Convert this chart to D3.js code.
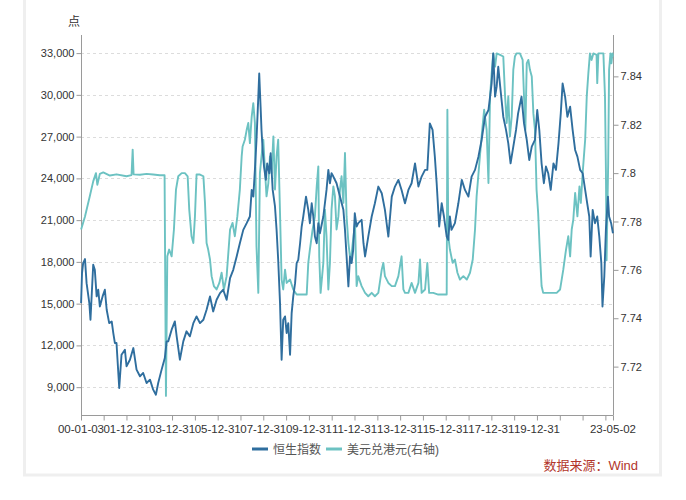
<!DOCTYPE html>
<html><head><meta charset="utf-8">
<script src="https://cdn.jsdelivr.net/npm/d3@7/dist/d3.min.js"></script>
<style>
html,body{margin:0;padding:0;background:#fff;}
svg{display:block;}
text{font-family:"Liberation Sans","Noto Sans CJK SC",sans-serif;}
</style></head>
<body>
<svg id="chart" width="686" height="500"></svg>
<script>
// ---- data (fractional year, value) ----
const hsiYears = [2000.01,2000.05,2000.10,2000.18,2000.25,2000.37,2000.42,2000.54,2000.61,2000.69,2000.76,2000.83,2000.95,
2001.05,2001.13,2001.24,2001.35,2001.42,2001.49,2001.56,2001.68,2001.78,2001.93,2002.00,2002.15,2002.30,2002.44,2002.59,2002.73,2002.88,
2003.03,2003.17,2003.29,2003.39,2003.54,2003.68,2003.76,2003.83,2003.98,2004.12,2004.20,2004.34,2004.49,2004.63,2004.78,2004.93,
2005.07,2005.22,2005.37,2005.51,2005.66,2005.80,2005.95,2006.10,2006.24,2006.39,2006.54,2006.68,2006.83,2006.97,
2007.12,2007.27,2007.41,2007.49,2007.56,2007.63,2007.70,2007.78,2007.82,2007.88,2007.92,2007.97,2008.03,2008.11,2008.17,2008.26,2008.32,2008.41,2008.51,2008.58,2008.65,2008.73,2008.80,2008.87,2008.95,
2009.02,2009.09,2009.17,2009.24,2009.31,2009.39,2009.46,2009.53,2009.61,2009.68,2009.75,2009.87,2009.97,
2010.04,2010.12,2010.19,2010.26,2010.34,2010.41,2010.48,2010.63,2010.77,2010.85,2010.92,2010.99,
2011.07,2011.21,2011.36,2011.51,2011.58,2011.73,2011.80,2011.87,2011.94,2012.01,2012.09,2012.16,2012.31,2012.39,2012.46,2012.60,2012.75,2012.89,
2013.04,2013.19,2013.33,2013.48,2013.63,2013.77,2013.92,2014.06,2014.21,2014.36,2014.50,2014.65,2014.80,2014.94,
2015.09,2015.19,2015.30,2015.42,2015.52,2015.60,2015.71,2015.82,2015.92,2016.04,2016.11,2016.18,2016.25,2016.40,2016.55,2016.70,2016.84,2016.99,
2017.13,2017.28,2017.43,2017.57,2017.72,2017.87,2018.01,2018.08,2018.16,2018.23,2018.30,2018.40,2018.52,2018.64,2018.74,2018.84,2018.96,
2019.08,2019.17,2019.32,2019.43,2019.55,2019.66,2019.77,2019.91,2020.01,2020.10,2020.20,2020.30,2020.39,2020.49,2020.60,2020.72,2020.83,2020.94,
2021.04,2021.12,2021.23,2021.33,2021.45,2021.56,2021.67,2021.77,2021.89,2022.00,2022.11,2022.20,2022.29,2022.35,2022.44,2022.54,2022.64,2022.73,2022.82,2022.87,2022.95,
2023.02,2023.11,2023.16,2023.25,2023.33];
const hsiValues = [15040,17190,17910,18200,16470,15040,13840,17790,17430,15520,16000,14800,15520,
16000,14560,13600,13720,12890,12170,12170,8940,11330,11690,10500,10970,11810,10260,9780,10020,9300,
9540,8820,8460,9300,10260,11090,12290,12290,13130,13720,12650,10970,12290,13010,12650,13600,
14080,13600,13840,14560,15520,14440,15280,15760,16000,15280,16830,17430,18390,19340,
20300,20780,21260,23170,22690,24610,26760,29870,31540,29150,27480,26040,24850,23890,25080,24370,25800,23170,21980,20300,18150,15040,10970,13840,14080,
12890,13600,11330,14320,15520,16470,17910,18150,19340,20540,21260,22690,21740,
20780,22210,21260,19820,19340,20780,20060,21260,23170,24610,23650,24370,
24130,23650,22690,21740,20300,16240,18390,17910,18870,21500,20540,20780,21020,19340,18390,19820,21260,22210,
23410,22930,21740,19820,22690,23410,23890,23170,22210,23170,23650,25080,23410,24130,
24610,24610,27950,27480,25560,23650,20540,22210,21260,19820,19580,21260,20300,20780,22210,23890,23170,22690,
24130,24610,25560,26760,28430,28910,30820,32980,29870,30590,32020,30350,28430,27480,26520,25080,26280,
27480,28670,29870,27950,26760,25320,26280,26760,28910,27480,25080,23650,24850,24370,23170,25080,24610,26520,
28670,30820,29870,28430,29150,27480,26040,25560,24610,24370,23170,22210,21260,18390,21740,20780,21260,19820,17910,14800,16950,
20300,22690,21260,20780,20060];

const hkdYears = [2000.01,2000.18,2000.39,2000.54,2000.66,2000.72,2000.83,2000.98,2001.27,2001.56,2002.00,2002.22,2002.27,2002.31,2002.59,2002.88,
2003.17,2003.46,2003.67,2003.73,2003.79,2003.87,2003.98,2004.08,2004.17,2004.27,2004.42,2004.56,2004.68,2004.75,2004.85,2004.93,
2005.00,2005.07,2005.22,2005.37,2005.44,2005.51,2005.58,2005.66,2005.73,2005.83,2005.95,2006.07,2006.17,2006.27,2006.39,2006.54,2006.65,2006.75,2006.86,2006.97,
2007.05,2007.09,2007.19,2007.27,2007.34,2007.41,2007.49,2007.56,2007.63,2007.70,2007.78,2007.85,2007.92,2008.00,2008.07,2008.14,2008.22,2008.29,2008.36,2008.44,2008.51,2008.58,2008.65,2008.73,2008.80,2008.87,2008.95,
2009.02,2009.17,2009.31,2009.46,2009.68,2009.90,2009.97,2010.04,2010.16,2010.26,2010.34,2010.41,2010.45,2010.51,2010.63,2010.70,2010.77,2010.85,2010.92,2010.99,
2011.07,2011.14,2011.21,2011.29,2011.36,2011.43,2011.51,2011.58,2011.65,2011.73,2011.83,2011.92,2012.02,2012.09,2012.16,2012.31,2012.46,2012.60,2012.75,2012.89,
2013.04,2013.19,2013.26,2013.33,2013.48,2013.63,2013.77,2013.92,2014.06,2014.14,2014.21,2014.36,2014.50,2014.65,2014.80,2014.87,2014.94,
2015.09,2015.19,2015.27,2015.45,2015.67,2015.89,2016.04,2016.07,2016.11,2016.18,2016.30,2016.40,2016.51,2016.62,2016.77,2016.92,
2017.06,2017.18,2017.28,2017.35,2017.47,2017.57,2017.68,2017.79,2017.87,2017.94,2018.01,2018.08,2018.16,2018.23,2018.38,2018.52,2018.60,2018.67,2018.74,2018.81,2018.89,2018.96,
2019.03,2019.10,2019.25,2019.37,2019.43,2019.49,2019.55,2019.62,2019.69,2019.77,2019.84,2019.91,2019.98,2020.05,2020.12,2020.20,2020.27,2020.42,2020.57,2020.72,2020.86,
2021.01,2021.08,2021.15,2021.27,2021.37,2021.45,2021.52,2021.59,2021.67,2021.77,2021.86,2021.92,2022.00,2022.11,2022.18,2022.25,2022.32,2022.39,2022.47,2022.61,2022.64,2022.69,2022.83,2022.91,2022.98,
2023.02,2023.05,2023.12,2023.16,2023.22,2023.26,2023.31,2023.33];
const hkdValues = [7.7767,7.7821,7.7904,7.7966,7.8000,7.7952,7.7997,7.8003,7.7990,7.7995,7.7987,7.7992,7.8097,7.7995,7.7993,7.7997,
7.7994,7.7991,7.7991,7.7079,7.7656,7.7684,7.7656,7.7767,7.7932,7.7987,7.8000,7.8000,7.7987,7.7849,7.7739,7.7711,
7.7821,7.7994,7.7994,7.7987,7.7877,7.7711,7.7684,7.7643,7.7574,7.7533,7.7519,7.7546,7.7588,7.7519,7.7574,7.7767,7.7794,7.7739,7.7821,7.7932,
7.8069,7.8110,7.8138,7.8179,7.8207,7.8124,7.8234,7.8289,7.8207,7.7698,7.7505,7.8000,7.8069,7.8138,7.8014,7.7904,7.7959,7.8069,7.8000,7.8152,7.7932,7.8069,7.8138,7.7835,7.7560,7.7519,7.7601,
7.7546,7.7560,7.7519,7.7498,7.7498,7.7498,7.7629,7.7684,7.7767,7.7821,7.7945,7.8028,7.7656,7.7505,7.7629,7.7849,7.7739,7.7519,7.7629,7.7849,
7.7945,7.7904,7.7767,7.7821,7.7932,7.7987,7.7877,7.8083,7.7821,7.7711,7.7629,7.7711,7.7794,7.7533,7.7574,7.7533,7.7505,7.7491,7.7505,7.7491,
7.7505,7.7601,7.7629,7.7574,7.7546,7.7533,7.7533,7.7574,7.7656,7.7519,7.7505,7.7505,7.7546,7.7505,7.7546,7.7643,7.7505,
7.7519,7.7629,7.7505,7.7505,7.7498,7.7498,7.7498,7.8262,7.7739,7.7684,7.7629,7.7643,7.7588,7.7560,7.7574,7.7560,
7.7588,7.7643,7.7767,7.7904,7.8042,7.8152,7.8262,7.8179,7.7959,7.8317,7.8413,7.8495,7.8440,7.8495,7.8489,7.8482,7.8317,7.8207,7.8317,7.8152,7.8234,7.8427,
7.8482,7.8495,7.8495,7.8468,7.8317,7.8179,7.8454,7.8468,7.8427,7.8399,7.8248,7.8179,7.7932,7.7835,7.7684,7.7533,7.7505,7.7505,7.7505,7.7505,7.7505,
7.7519,7.7560,7.7601,7.7684,7.7739,7.7656,7.7767,7.7808,7.7918,7.7821,7.7945,7.7877,7.8000,7.8138,7.8317,7.8413,7.8495,7.8468,7.8495,7.8489,7.8372,7.8495,7.8495,7.8495,7.8317,
7.8014,7.7640,7.8042,7.8427,7.8495,7.8454,7.8495,7.8482];

const leftTicks = [9000,12000,15000,18000,21000,24000,27000,30000,33000];
const rightTicks = [7.72,7.74,7.76,7.78,7.8,7.82,7.84];
const xLabelDates = ["2000-01-03","2001-12-31","2003-12-31","2005-12-31","2007-12-31","2009-12-31","2011-12-31","2013-12-31","2015-12-31","2017-12-31","2019-12-31","2023-05-02"];
const seriesNames = ["恒生指数","美元兑港元(右轴)"];
const yUnit = "点";
const sourceText = "数据来源：Wind";

// ---- helpers ----
function yearToDate(y){
  const yr = Math.floor(y), f = y - yr;
  const a = Date.UTC(yr,0,1), b = Date.UTC(yr+1,0,1);
  return new Date(a + f*(b-a));
}
const parse = d3.utcParse("%Y-%m-%d");
const fmt = d3.utcFormat("%y-%m-%d");

const svg = d3.select("#chart");
const L = 81, R = 613, T = 35, B = 415;
const startDate = parse("2000-01-03"), endDate = parse("2023-05-02");

const x = d3.scaleUtc().domain([startDate,endDate]).range([L,R]);
const yL = d3.scaleLinear().domain([7000,34300]).range([B,T]);
const yR = d3.scaleLinear().domain([7.70,7.8571]).range([B,T]);

// card border
svg.append("rect").attr("x",24.5).attr("y",-4).attr("width",636).attr("height",479)
  .attr("fill","none").attr("stroke","#efefef").attr("stroke-width",3);

const axisColor = "#9a9a9a", textColor = "#333";

// gridlines
svg.append("g").selectAll("line").data(leftTicks).join("line")
  .attr("x1",L).attr("x2",R).attr("y1",d=>Math.round(yL(d))+0.5).attr("y2",d=>Math.round(yL(d))+0.5)
  .attr("stroke","#dcdcdc").attr("stroke-dasharray","3,3").attr("stroke-width",1);

// left axis
const gL = svg.append("g").attr("transform",`translate(${L+0.5},0)`);
const leftMinor = d3.range(7000,34001,1000).filter(v=>leftTicks.indexOf(v)<0);
gL.call(d3.axisLeft(yL).tickValues(leftMinor).tickSize(4).tickFormat(""));
gL.call(d3.axisLeft(yL).tickValues(leftTicks).tickSize(5).tickPadding(2).tickFormat(d3.format(",")));
gL.selectAll(".domain").remove();
gL.append("line").attr("x1",0).attr("x2",0).attr("y1",T).attr("y2",B).attr("stroke",axisColor);
gL.selectAll(".tick line").attr("stroke",axisColor);
gL.selectAll(".tick text").attr("fill",textColor).style("font-size","11px").attr("font-family","Liberation Sans");

// right axis
const gR = svg.append("g").attr("transform",`translate(${R+0.5},0)`);
const rightMinor = d3.range(0,24).map(i=>7.70+i*0.02/3).filter(v=>v<=7.8571 && !rightTicks.some(t=>Math.abs(t-v)<1e-6));
gR.call(d3.axisRight(yR).tickValues(rightMinor).tickSize(4).tickFormat(""));
gR.call(d3.axisRight(yR).tickValues(rightTicks).tickSize(5).tickPadding(2).tickFormat(d=>String(+d.toFixed(2))));
gR.selectAll(".domain").remove();
gR.append("line").attr("x1",0).attr("x2",0).attr("y1",T).attr("y2",B).attr("stroke",axisColor);
gR.selectAll(".tick line").attr("stroke",axisColor);
gR.selectAll(".tick text").attr("fill",textColor).style("font-size","11px").attr("font-family","Liberation Sans");

// x axis
const gX = svg.append("g").attr("transform",`translate(0,${B+0.5})`);
const yearTicks = d3.range(2000,2023).map(yr=>new Date(Date.UTC(yr,11,31)));
gX.call(d3.axisBottom(x).tickValues(yearTicks.concat([endDate])).tickSize(5).tickFormat(""));
gX.selectAll(".domain").remove();
gX.append("line").attr("x1",L).attr("x2",R+0.5).attr("y1",0).attr("y2",0).attr("stroke",axisColor);
gX.append("line").attr("x1",L+0.5).attr("x2",L+0.5).attr("y1",0).attr("y2",5).attr("stroke",axisColor);
gX.selectAll(".tick line").attr("stroke",axisColor);
gX.selectAll("text.lbl").data(xLabelDates).join("text").attr("class","lbl")
  .attr("x",d=>x(parse(d))).attr("y",17).attr("text-anchor","middle")
  .attr("fill",textColor).style("font-size","11.5px").text(d=>fmt(parse(d)));

// unit
svg.append("text").attr("x",74).attr("y",26).attr("text-anchor","middle")
  .attr("fill",textColor).style("font-size","12px").attr("font-family","Noto Sans CJK SC").text(yUnit);

// series
const colors = ["#2f6e9e","#6cc2c2"];
const hsi = hsiYears.map((t,i)=>({d:yearToDate(t),v:hsiValues[i]}));
const hkd = hkdYears.map((t,i)=>({d:yearToDate(t),v:hkdValues[i]}));
const clamp = d=> d<startDate?startDate:(d>endDate?endDate:d);
svg.append("path").datum(hkd).attr("fill","none").attr("stroke",colors[1]).attr("stroke-width",1.9)
  .attr("stroke-linejoin","round")
  .attr("d",d3.line().x(p=>x(clamp(p.d))).y(p=>yR(p.v)));
svg.append("path").datum(hsi).attr("fill","none").attr("stroke",colors[0]).attr("stroke-width",1.9)
  .attr("stroke-linejoin","round")
  .attr("d",d3.line().x(p=>x(clamp(p.d))).y(p=>yL(p.v)));

// legend
const lg = svg.append("g").attr("transform","translate(0,449)");
const legendX = [252,326];
const legendTextX = [273,347];
seriesNames.forEach((n,i)=>{
  lg.append("line").attr("x1",legendX[i]).attr("x2",legendX[i]+16).attr("y1",0).attr("y2",0)
    .attr("stroke",colors[i]).attr("stroke-width",3);
  lg.append("text").attr("x",legendTextX[i]).attr("y",4.5).attr("fill","#555")
    .style("font-size","12px").attr("font-family","Noto Sans CJK SC").text(n);
});

// source
svg.append("text").attr("x",638).attr("y",470).attr("text-anchor","end").attr("fill","#b2362b")
  .style("font-size","13px").attr("font-family","Noto Sans CJK SC").text(sourceText);
</script>
</body></html>
